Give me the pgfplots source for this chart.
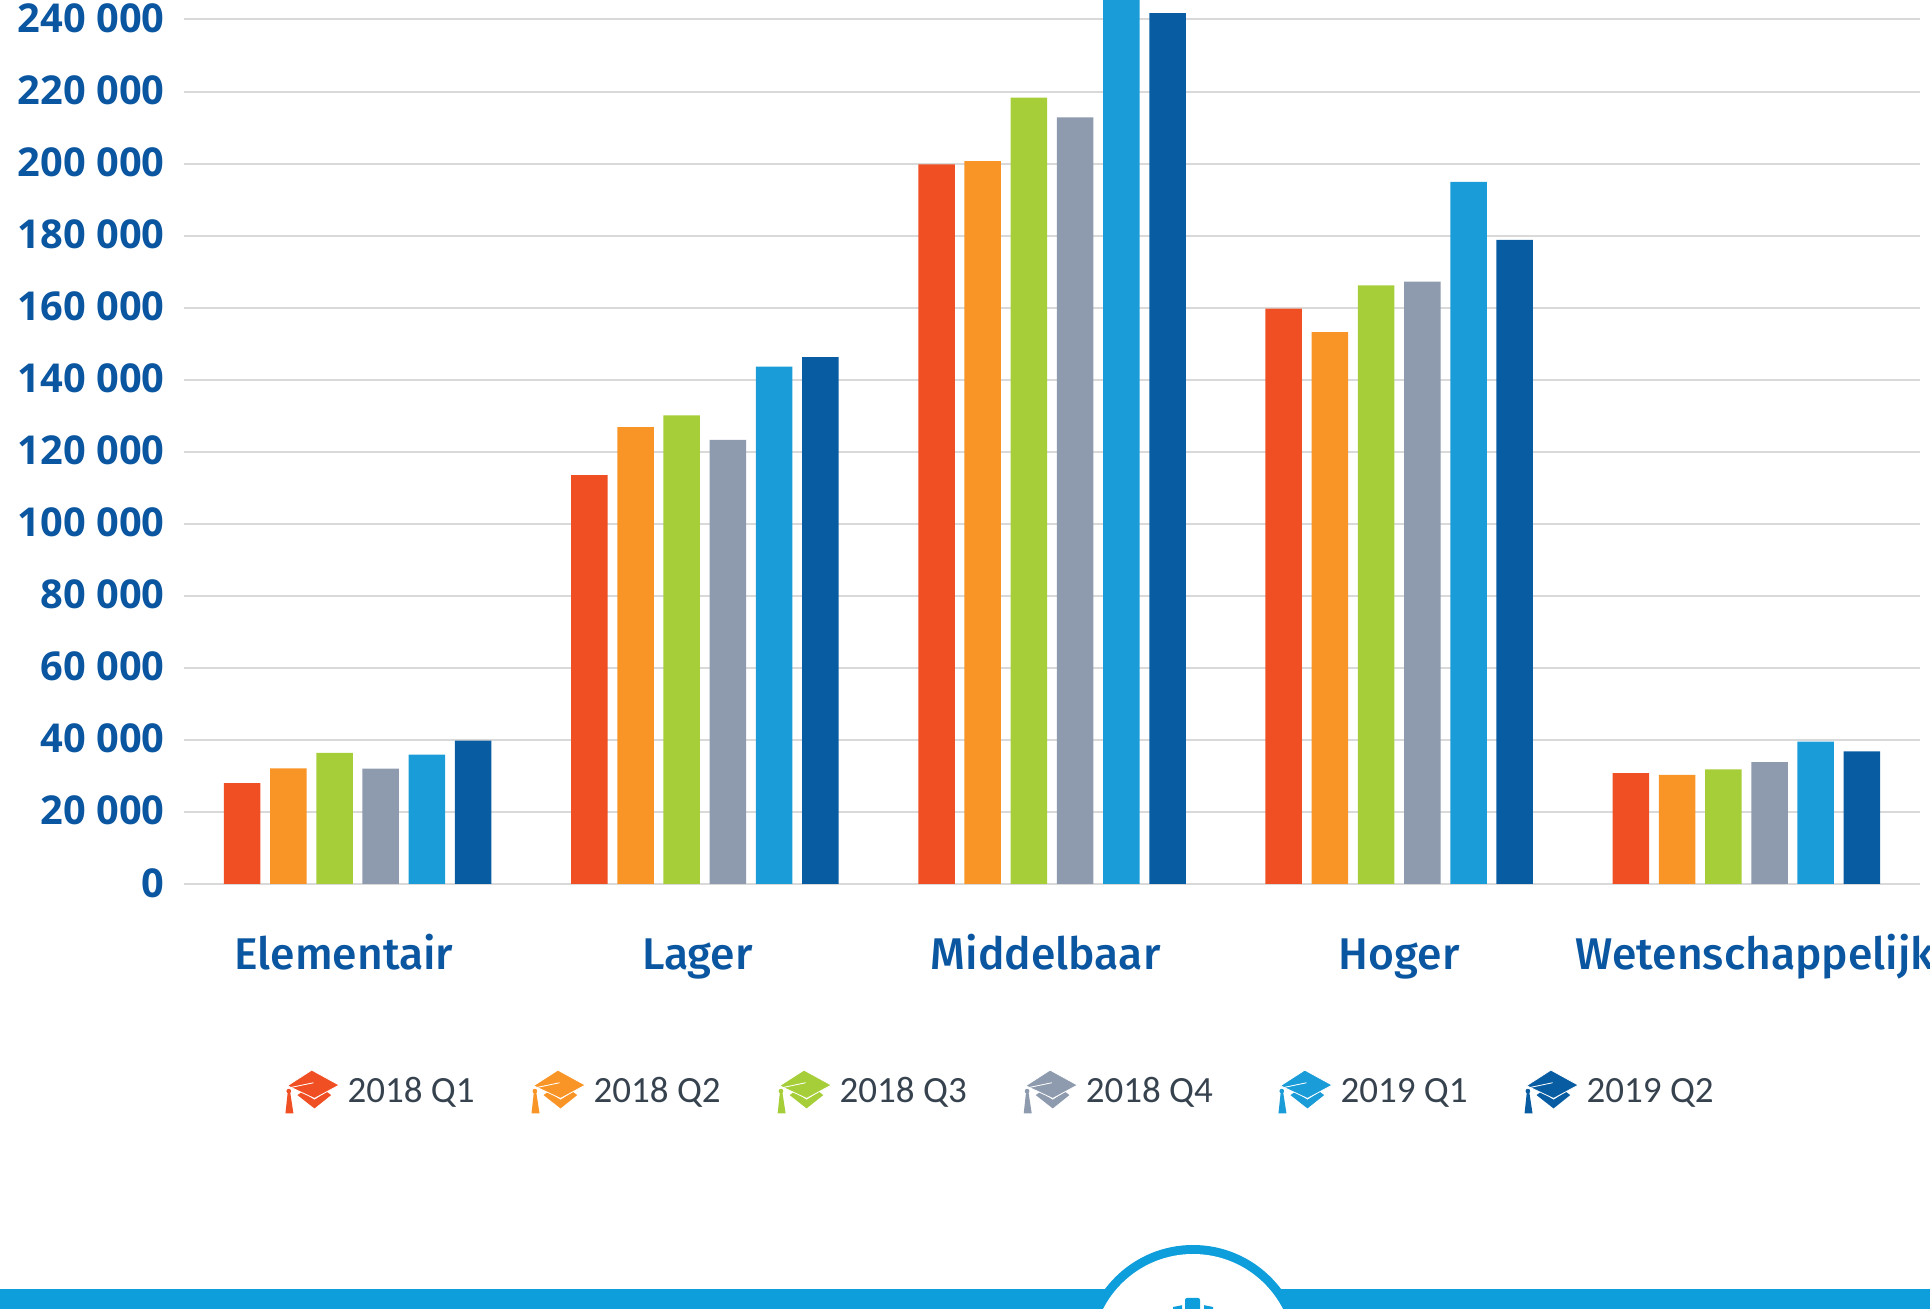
\documentclass[border=0pt]{standalone}
\usepackage{fontspec}
\usepackage{pgfplots}
\pgfplotsset{compat=1.18}
\setmainfont{Open Sans}
\newfontfamily\ylabfont{Open Sans}
\newfontfamily\catfont{Fira Sans Medium}
\newfontfamily\legfont{Carlito}
\definecolor{c1}{HTML}{F04E23}
\definecolor{c2}{HTML}{F99527}
\definecolor{c3}{HTML}{A6CE39}
\definecolor{c4}{HTML}{8E9AAE}
\definecolor{c5}{HTML}{1A9CD8}
\definecolor{c6}{HTML}{075CA2}
\definecolor{band}{HTML}{0D9EDB}
\definecolor{ylab}{HTML}{0B56A0}
\definecolor{legt}{HTML}{37424F}
\newcommand{\capicon}[1]{%
  \begin{scope}[x=0.1667pt,y=-0.1667pt,shift={(-76,-160)}]
    \fill[#1] (112,170)--(126,160)--(163,184)--(200,160)--(213,170)--(163,210)--cycle;
    \filldraw[#1,draw=white,line width=.4pt] (82,142)--(155,95)--(237,140)--(163,180)--cycle;
    \fill[#1] (83,160)--(90,160)--(100,225)--(76,225)--cycle;
    \fill[#1] (86,158) circle (7);
    \draw[white,line width=.4pt] (93,147)--(160,133);
  \end{scope}}
\pgfplotstableread{
x q1 q2 q3 q4 q5 q6
0 28000 32100 36400 32000 35900 39800
1 113500 126800 130100 123300 143600 146300
2 199800 200700 218300 212800 250000 241800
3 159700 153200 166200 167200 194900 178800
4 30800 30300 31800 33800 39500 36800
}\datatable
\begin{document}
\begin{tikzpicture}[x=1pt,y=1pt]
\clip (0,0) rectangle (965,654.5);
% bottom band (px: 1pt = 2px)
\fill[band] (0,0) rectangle (965,10);
\fill[band] (596.5,-23) circle (55);
\fill[white] (596.5,-23) circle (50.5);
\fill[band,rounded corners=1pt] (592.5,-2) rectangle (600,5.5);
\fill[band] (586.5,-2)--(591,-2)--(591,1.9)--(586.5,1.0)--cycle;
\fill[band] (602,-2)--(606.5,-2)--(606.5,1.0)--(602,1.9)--cycle;
\begin{axis}[
  at={(92pt,212.5pt)},anchor=south west,scale only axis,
  width=868pt,height=442pt,
  xmin=-0.5,xmax=4.5,ymin=0,ymax=245417,
  ybar=4.85pt,bar width=18.25pt,
  axis line style={draw=none},
  major tick length=0pt,
  tick style={draw=none},
  ymajorgrids,
  grid style={draw=black!15,line width=1pt},
  ytick={0,20000,...,240000},
  yticklabels={0,20 000,40 000,60 000,80 000,100 000,120 000,140 000,160 000,180 000,200 000,220 000,240 000},
  yticklabel style={font=\ylabfont\bfseries\fontsize{19.9}{19.9}\selectfont,text=ylab,anchor=east,inner sep=0pt,xshift=-9.5pt,yshift=.6pt},
  xtick={-0.039,0.979,1.982,3,4.025},
  xticklabels={Elementair,Lager,Middelbaar,Hoger,Wetenschappelijk},
  xticklabel style={font=\catfont\fontsize{22.2}{22.2}\selectfont,text=ylab,anchor=base,inner sep=0pt,yshift=-42.75pt},
  legend columns=6,
  legend style={at={(0.0582,-0.2348)},anchor=west,draw=none,fill=none,inner sep=0pt,
    nodes={inner sep=0pt,font=\legfont\fontsize{18.5}{18.5}\selectfont,text=legt,anchor=west},
    /tikz/every even column/.append style={column sep=28.5pt},
    /tikz/every odd column/.append style={column sep=4pt}},
]
\addplot[fill=c1,draw=none,legend image code/.code={\capicon{c1}}] table[x=x,y=q1]{\datatable};
\addplot[fill=c2,draw=none,legend image code/.code={\capicon{c2}}] table[x=x,y=q2]{\datatable};
\addplot[fill=c3,draw=none,legend image code/.code={\capicon{c3}}] table[x=x,y=q3]{\datatable};
\addplot[fill=c4,draw=none,legend image code/.code={\capicon{c4}}] table[x=x,y=q4]{\datatable};
\addplot[fill=c5,draw=none,legend image code/.code={\capicon{c5}}] table[x=x,y=q5]{\datatable};
\addplot[fill=c6,draw=none,legend image code/.code={\capicon{c6}}] table[x=x,y=q6]{\datatable};
\legend{2018 Q1,2018 Q2,2018 Q3,2018 Q4\kern4.3pt,2019 Q1,2019 Q2}
\end{axis}
\end{tikzpicture}
\end{document}
